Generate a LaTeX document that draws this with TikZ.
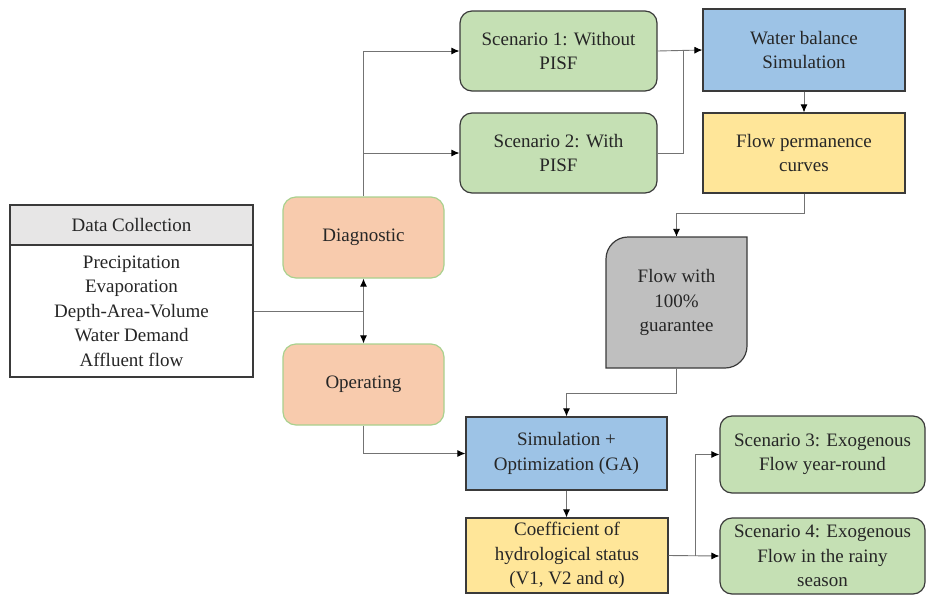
\documentclass[tikz,border=0pt]{standalone}
\usepackage{fontspec}
\setmainfont{Liberation Serif}
\usetikzlibrary{arrows.meta}
\definecolor{gfill}{HTML}{C5E0B4}
\definecolor{ofill}{HTML}{F8CBAD}
\definecolor{oline}{HTML}{A9D18E}
\definecolor{bfill}{HTML}{9DC3E6}
\definecolor{yfill}{HTML}{FFE699}
\definecolor{grfill}{HTML}{BFBFBF}
\definecolor{hfill}{HTML}{E7E6E6}
\definecolor{bline}{HTML}{3A3A3A}
\begin{document}
\begin{tikzpicture}[x=1pt,y=-1pt,
  every node/.style={font=\rmfamily\fontsize{19}{24.5}\selectfont, align=center, inner sep=0pt, text=black!85},
  box/.style={draw=bline, line width=1.2pt},
  greenbox/.style={box, fill=gfill, rounded corners=12pt},
  orangebox/.style={draw=oline, line width=1.2pt, fill=ofill, rounded corners=13pt},
  bluebox/.style={box, fill=bfill},
  yellowbox/.style={box, fill=yfill},
  conn/.style={draw=black!55, line width=0.9pt},
  arr/.style={conn, -{Latex[length=8pt,width=7pt,color=black]}}
]
\useasboundingbox (0,0) rectangle (926,595);
% Data collection
\node[box, fill=hfill, minimum width=243pt, minimum height=40pt] (dch) at (131.5,225) {Data Collection};
\node[box, fill=white, minimum width=243pt, minimum height=132pt] (dcb) at (131.5,311) {Precipitation\\Evaporation\\Depth-Area-Volume\\Water Demand\\Affluent flow};
% Diagnostic / Operating
\node[orangebox, minimum width=161pt, minimum height=81pt] (diag) at (363.5,237.5) {Diagnostic};
\node[orangebox, minimum width=161pt, minimum height=81pt] (oper) at (363.5,384.5) {Operating};
% Scenarios 1,2
\node[greenbox, minimum width=197pt, minimum height=80pt] (s1) at (558.5,51) {Scenario 1: Without\\PISF};
\node[greenbox, minimum width=197pt, minimum height=80pt] (s2) at (558.5,153) {Scenario 2: With\\PISF};
% Water balance, flow permanence
\node[bluebox, minimum width=202pt, minimum height=82pt] (wb) at (804,50) {Water balance\\Simulation};
\node[yellowbox, minimum width=202pt, minimum height=80pt] (fp) at (804,153) {Flow permanence\\curves};
% Gray box
\draw[box, fill=grfill] (606,368) -- (606,259) to[out=90,in=180] (628,237) -- (747,237) -- (747,346) to[out=270,in=0] (725,368) -- cycle;
\node[minimum width=141pt, minimum height=131pt] (g) at (676.5,302.5) {Flow with\\100\%\\guarantee};
% Simulation + optimization
\node[bluebox, minimum width=201pt, minimum height=73pt] (sim) at (566.5,453.5) {Simulation +\\Optimization (GA)};
\node[yellowbox, minimum width=202pt, minimum height=75pt] (coef) at (567,555.5) {Coefficient of\\hydrological status\\(V1, V2 and α)};
% Scenarios 3,4
\node[greenbox, minimum width=205pt, minimum height=77pt] (s3) at (822.5,454.5) {Scenario 3: Exogenous\\Flow year-round};
\node[greenbox, minimum width=205pt, minimum height=76pt] (s4) at (822.5,556) {Scenario 4: Exogenous\\Flow in the rainy\\season};
% coordinates
\coordinate (j) at (363.5,311);
\coordinate (d2) at (363.5,153);
\coordinate (m1) at (683,51);
\coordinate (k) at (676.5,213);
\coordinate (q) at (566.5,393);
\coordinate (r) at (695,556);
% connectors
\draw[conn] (dcb.east) -- (j);
\draw[arr] (j) -- (diag.south);
\draw[arr] (j) -- (oper.north);
\draw[arr] (diag.north) |- (s1.west);
\draw[arr] (d2) -- (s2.west);
\draw[arr] (s1.east) -- (wb.west);
\draw[conn] (s2.east) -| (m1);
\draw[arr] (wb.south) -- (fp.north);
\draw[conn] (fp.south) |- (k);
\draw[arr] (k) -- (g.north);
\draw[conn] (g.south) |- (q);
\draw[arr] (q) -- (sim.north);
\draw[arr] (oper.south) |- (sim.west);
\draw[arr] (sim.south) -- (sim.south |- coef.north);
\draw[arr] (coef.east) -- (s4.west);
\draw[arr] (r) |- (s3.west);
\end{tikzpicture}
\end{document}
